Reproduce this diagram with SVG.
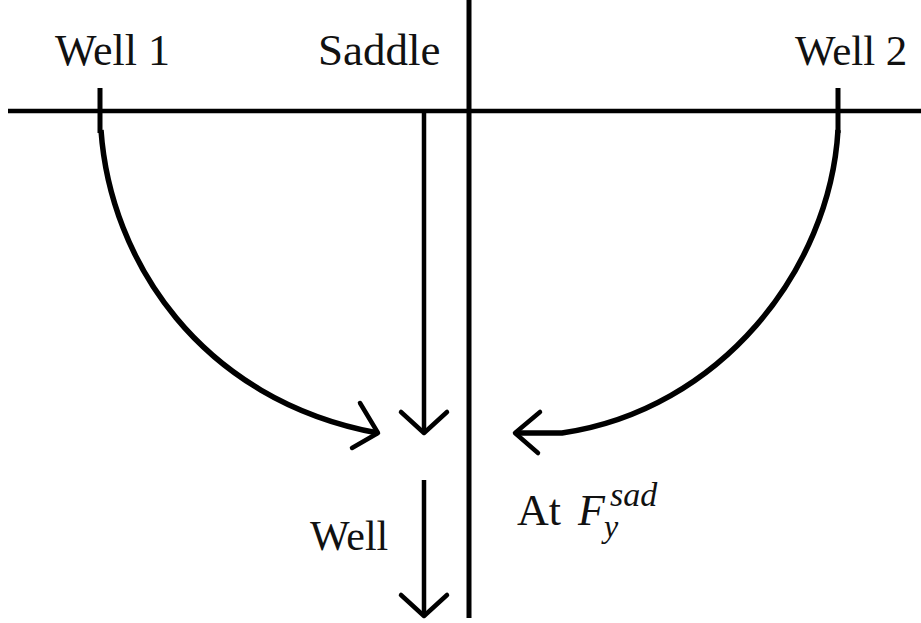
<svg xmlns="http://www.w3.org/2000/svg" width="921" height="623" viewBox="0 0 921 623">
<rect width="921" height="623" fill="#fff"/>
<g id="axes" stroke="#000" fill="none" stroke-width="4.5">
<line x1="8" y1="111" x2="921" y2="111"/>
<line x1="469" y1="0" x2="469" y2="618" stroke-width="5"/>
</g>
<g id="well1">
<line x1="100" y1="88" x2="100" y2="133" stroke="#000" stroke-width="5"/>
<text x="55" y="65" font-family="Liberation Serif" font-size="44" fill="#111">Well 1</text>
</g>
<g id="saddle">
<text x="318" y="65" font-family="Liberation Serif" font-size="45" fill="#111">Saddle</text>
</g>
<g id="well2">
<line x1="838" y1="88" x2="838" y2="133" stroke="#000" stroke-width="5"/>
<text x="795" y="65" font-family="Liberation Serif" font-size="43" fill="#111">Well 2</text>
</g>
<g id="well-label">
<text x="310" y="550" font-family="Liberation Serif" font-size="42" fill="#111">Well</text>
</g>
<g id="at-fsad">
<text x="517" y="525" font-family="Liberation Serif" font-size="44" fill="#111">At</text>
<text x="578" y="525" font-family="Liberation Serif" font-size="44" font-style="italic" fill="#111">F</text>
<text x="610" y="506" font-family="Liberation Serif" font-size="34" font-style="italic" fill="#111">sad</text>
<text x="604" y="537" font-family="Liberation Serif" font-size="32" font-style="italic" fill="#111">y</text>
</g>
<g id="connectors" stroke="#000" fill="none" stroke-width="4.5" stroke-linecap="round" stroke-linejoin="round">
<path d="M101,130 C110,260 200,400 378,433" stroke-width="5.5" stroke-linecap="butt"/>
<polyline points="360,403 378,433 352,448"/>
<path d="M838,130 C830,270 720,410 562,433 L515,433" stroke-width="5.5" stroke-linecap="butt"/>
<polyline points="540,412 515,433 538,453"/>
<line x1="424" y1="111" x2="424" y2="433" stroke-linecap="butt"/>
<polyline points="401,412 424,433 447,412"/>
<line x1="424" y1="480" x2="424" y2="616" stroke-linecap="butt"/>
<polyline points="401,595 424,616 447,595"/>
</g>
</svg>
